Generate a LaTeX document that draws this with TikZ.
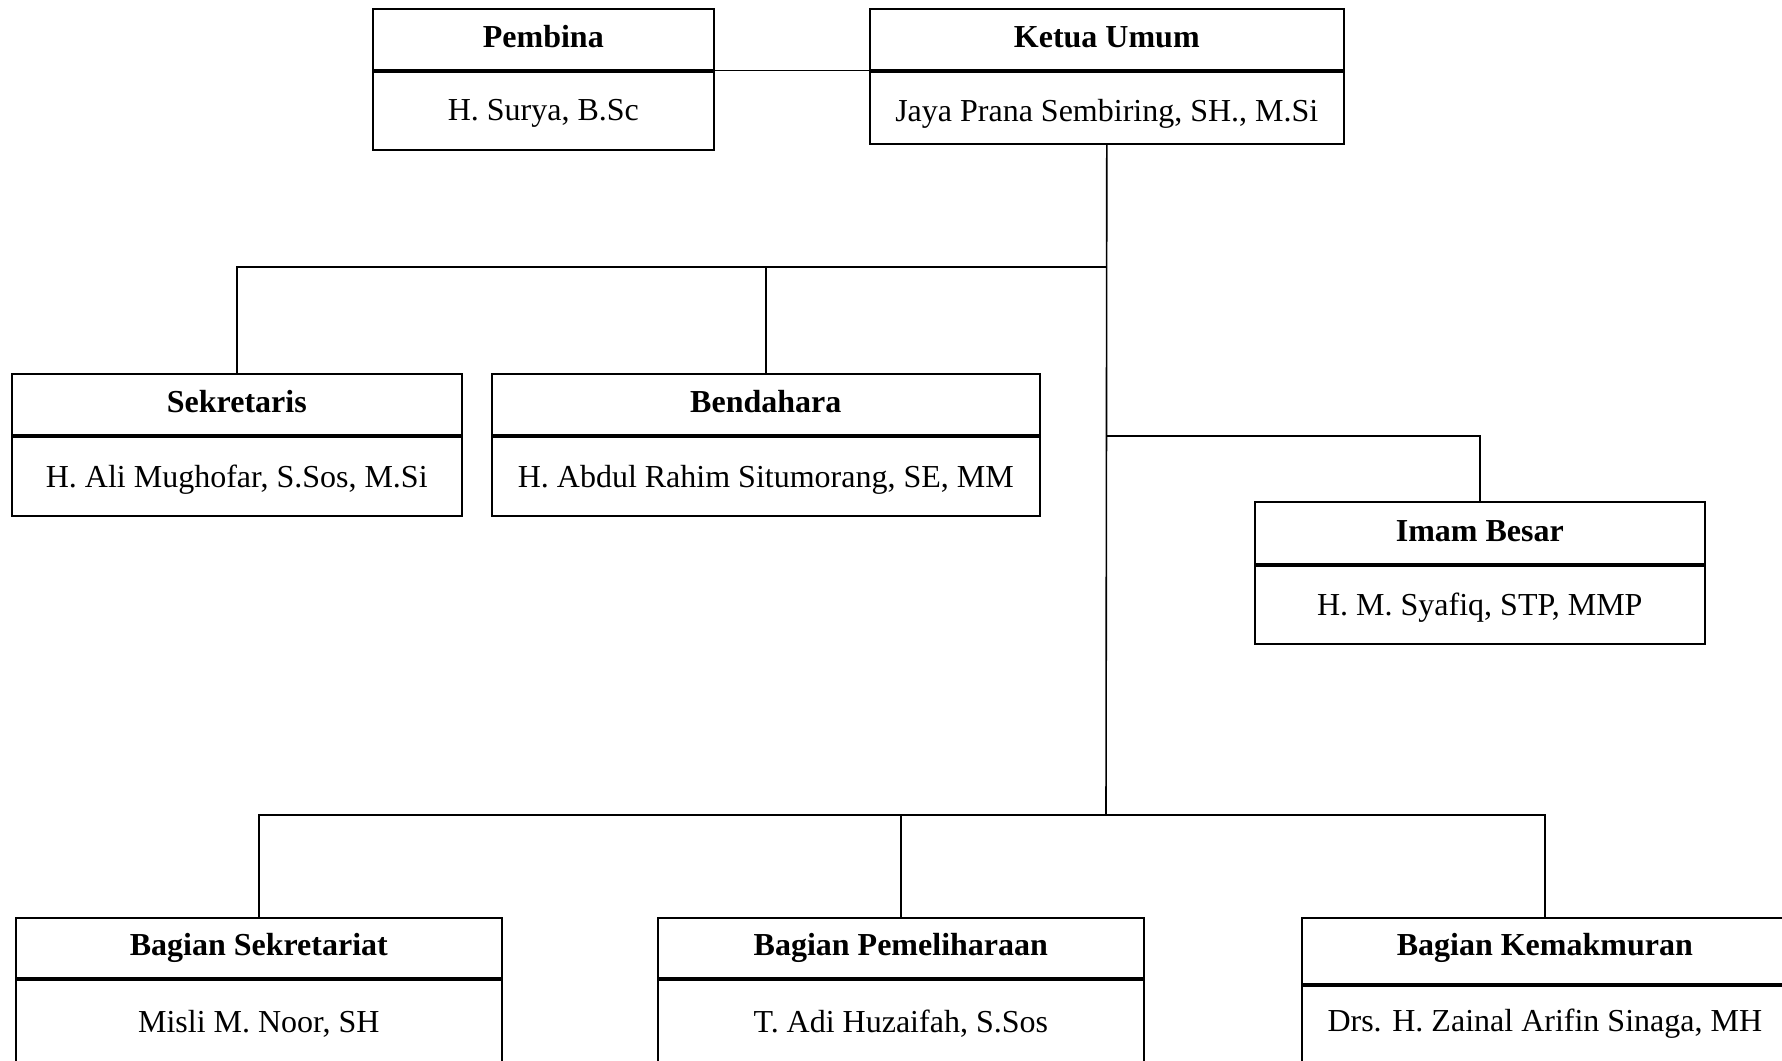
\documentclass[tikz,border=0pt]{standalone}
\usepackage{fontspec}
\setmainfont{Liberation Serif}

\begin{document}
\begin{tikzpicture}[x=0.5pt,y=-0.5pt,
    font=\fontsize{16}{19}\selectfont,
    kotak/.style={draw, line width=0.8pt, anchor=north west, inner sep=0pt},
    jabatan/.style={font=\fontsize{16}{19}\selectfont\bfseries},
    garis/.style={line width=0.8pt},
    sekat/.style={line width=2pt}]
    \useasboundingbox (0,0) rectangle (1782,1060);

    % baris atas
    \node[kotak, minimum width=170.5pt, minimum height=70.5pt] (pembina) at (372,8) {};
    \node[jabatan, yshift=-14.5pt] (pembinaJ) at (pembina.north) {Pembina};
    \node[yshift=-52.8pt] (pembinaN) at (pembina.north) {H. Surya, B.Sc};
    \coordinate (pembinaA) at ([yshift=-31.25pt]pembina.north west);
    \coordinate (pembinaB) at ([yshift=-31.25pt]pembina.north east);
    \draw[sekat] (pembinaA) -- (pembinaB);

    \node[kotak, minimum width=237pt, minimum height=67.5pt] (ketua) at (869,8) {};
    \node[jabatan, yshift=-14.5pt] (ketuaJ) at (ketua.north) {Ketua Umum};
    \node[yshift=-52.8pt] (ketuaN) at (ketua.north) {Jaya Prana Sembiring, SH., M.Si};
    \coordinate (ketuaA) at ([yshift=-31.25pt]ketua.north west);
    \coordinate (ketuaB) at ([yshift=-31.25pt]ketua.north east);
    \draw[sekat] (ketuaA) -- (ketuaB);

    % baris kedua
    \node[kotak, minimum width=225pt, minimum height=71pt] (sekretaris) at (11,373) {};
    \node[jabatan, yshift=-14.5pt] (sekretarisJ) at (sekretaris.north) {Sekretaris};
    \node[yshift=-53.2pt] (sekretarisN) at (sekretaris.north) {H. Ali Mughofar, S.Sos, M.Si};
    \draw[sekat] ([yshift=-31.5pt]sekretaris.north west) -- ([yshift=-31.5pt]sekretaris.north east);

    \node[kotak, minimum width=274pt, minimum height=71pt] (bendahara) at (491,373) {};
    \node[jabatan, yshift=-14.5pt] (bendaharaJ) at (bendahara.north) {Bendahara};
    \node[yshift=-53.2pt] (bendaharaN) at (bendahara.north) {H. Abdul Rahim Situmorang, SE, MM};
    \draw[sekat] ([yshift=-31.5pt]bendahara.north west) -- ([yshift=-31.5pt]bendahara.north east);

    \node[kotak, minimum width=225pt, minimum height=71pt] (imam) at (1254,501) {};
    \node[jabatan, yshift=-15pt] (imamJ) at (imam.north) {Imam Besar};
    \node[yshift=-53.2pt] (imamN) at (imam.north) {H. M. Syafiq, STP, MMP};
    \draw[sekat] ([yshift=-32pt]imam.north west) -- ([yshift=-32pt]imam.north east);

    % baris bawah
    \node[kotak, minimum width=243pt, minimum height=75pt] (sekretariat) at (15,917) {};
    \node[jabatan, yshift=-15.3pt] (sekretariatJ) at (sekretariat.north) {Bagian Sekretariat};
    \node[yshift=-53.5pt] (sekretariatN) at (sekretariat.north) {Misli M. Noor, SH};
    \draw[sekat] ([yshift=-31pt]sekretariat.north west) -- ([yshift=-31pt]sekretariat.north east);

    \node[kotak, minimum width=243pt, minimum height=75pt] (pemeliharaan) at (657,917) {};
    \node[jabatan, yshift=-15.3pt] (pemeliharaanJ) at (pemeliharaan.north) {Bagian Pemeliharaan};
    \node[yshift=-53.5pt] (pemeliharaanN) at (pemeliharaan.north) {T. Adi Huzaifah, S.Sos};
    \draw[sekat] ([yshift=-31pt]pemeliharaan.north west) -- ([yshift=-31pt]pemeliharaan.north east);

    \node[kotak, minimum width=243pt, minimum height=75pt] (kemakmuran) at (1301,917) {};
    \node[jabatan, yshift=-15.3pt] (kemakmuranJ) at (kemakmuran.north) {Bagian Kemakmuran};
    \node[yshift=-53.5pt] (kemakmuranN) at (kemakmuran.north) {Drs. H. Zainal Arifin Sinaga, MH};
    \draw[sekat] ([yshift=-34pt]kemakmuran.north west) -- ([yshift=-34pt]kemakmuran.north east);

    % garis penghubung
    \coordinate (atas) at (1106,267);
    \coordinate (tengah) at (1106,436);
    \coordinate (bawah) at (1106,815);
    \draw[garis] (pembinaB) -- (ketuaA);
    \draw[garis] (ketua.south) -- (bawah);
    \draw[garis] (sekretaris.north) |- (atas);
    \draw[garis] (bendahara.north) -- (bendahara.north |- atas);
    \draw[garis] (imam.north) |- (tengah);
    \draw[garis] (sekretariat.north) |- (bawah) -| (kemakmuran.north);
    \draw[garis] (pemeliharaan.north) -- (pemeliharaan.north |- bawah);
\end{tikzpicture}
\end{document}
